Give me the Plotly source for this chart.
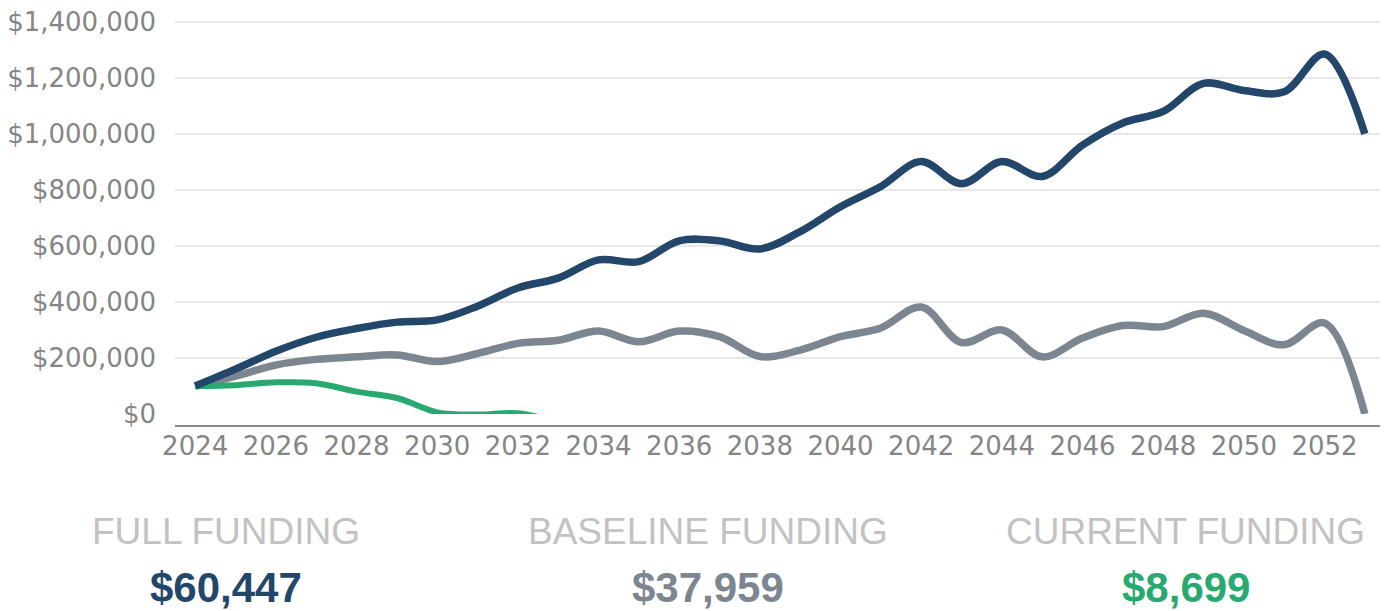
import plotly.graph_objects as go

years = list(range(2024, 2054))

full_funding = [100000, 160000, 224000, 274000, 305000, 328000, 336000, 385000, 450000, 485000,
                550000, 544000, 618000, 618000, 589000, 651000, 740000, 812000, 901000, 822000,
                901000, 848000, 960000, 1039000, 1080000, 1180000, 1155000, 1150000, 1285000, 1000000]

baseline_funding = [100000, 135000, 175000, 195000, 204000, 211000, 187000, 216000, 252000, 263000,
                    296000, 258000, 296000, 276000, 205000, 228000, 276000, 307000, 382000, 255000,
                    300000, 204000, 271000, 316000, 312000, 360000, 298000, 247000, 325000, 0]

current_years = list(range(2024, 2034))
current_funding = [100000, 103000, 113000, 110000, 80000, 57000, 6000, -2000, 3000, -30000]

titles = ["FULL FUNDING", "BASELINE FUNDING", "CURRENT FUNDING"]
totals = ["$60,447", "$37,959", "$8,699"]
colors = ["#23466b", "#7b8691", "#27a96f"]

y_ticks = [0, 200000, 400000, 600000, 800000, 1000000, 1200000, 1400000]
y_tick_labels = ["$0", "$200,000", "$400,000", "$600,000", "$800,000", "$1,000,000", "$1,200,000", "$1,400,000"]
x_ticks = list(range(2024, 2053, 2))

fig = go.Figure()
fig.add_trace(go.Scatter(x=years, y=baseline_funding, mode="lines",
                         line=dict(color=colors[1], width=7.5, shape="spline", smoothing=1)))
fig.add_trace(go.Scatter(x=current_years, y=current_funding, mode="lines",
                         line=dict(color=colors[2], width=6, shape="spline", smoothing=1)))
fig.add_trace(go.Scatter(x=years, y=full_funding, mode="lines",
                         line=dict(color=colors[0], width=7.5, shape="spline", smoothing=1)))

# page body has an 8px margin, so the figure is sized/offset to compensate
fig.update_layout(
    width=1380, height=603,
    margin=dict(l=167, r=3, t=11, b=197),
    paper_bgcolor="white", plot_bgcolor="white",
    showlegend=False,
    font=dict(family="DejaVu Sans", size=26, color="#858585"),
)
fig.update_xaxes(range=[2023.5, 2053.5], tickvals=x_ticks, ticktext=[str(t) for t in x_ticks],
                 showgrid=False, zeroline=False, showline=False, automargin=False,
                 ticks="", ticklabelstandoff=14, ticklabeloverflow="allow",
                 tickfont=dict(family="DejaVu Sans", size=26, color="#858585"))
fig.update_yaxes(range=[0, 1410000], tickvals=y_ticks, ticktext=y_tick_labels,
                 showgrid=True, gridcolor="#e8e8e8", gridwidth=2, zeroline=False, showline=False,
                 automargin=False,
                 ticks="", ticklabelstandoff=18, ticklabeloverflow="allow",
                 tickfont=dict(family="DejaVu Sans", size=26, color="#858585"))

# x-axis baseline line, drawn slightly below the zero gridline
fig.add_shape(type="line", xref="paper", yref="paper", x0=0, x1=1, y0=-0.0304, y1=-0.0304,
              line=dict(color="#8a8a8a", width=2))

xpos = [0.0421, 0.4405, 0.8355]
for i in range(3):
    fig.add_annotation(xref="paper", yref="paper", x=xpos[i], y=-0.297, text=titles[i],
                       showarrow=False, xanchor="center", yanchor="middle",
                       font=dict(family="Liberation Sans", size=37, color="#c2c2c2"))
    fig.add_annotation(xref="paper", yref="paper", x=xpos[i], y=-0.44, text="<b>" + totals[i] + "</b>",
                       showarrow=False, xanchor="center", yanchor="middle",
                       font=dict(family="Liberation Sans", size=42, color=colors[i]))

fig.write_html("out.html")
